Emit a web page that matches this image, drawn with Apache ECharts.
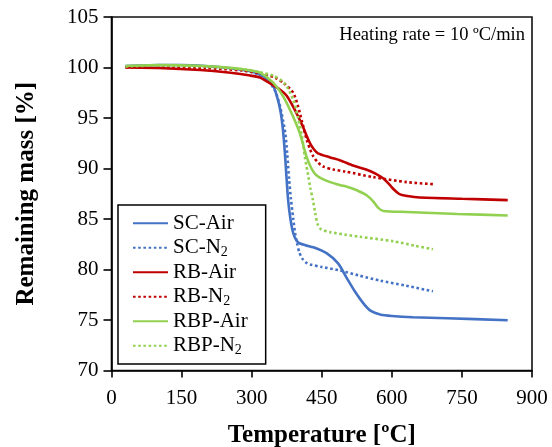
<!DOCTYPE html>
<html>
<head>
<meta charset="utf-8">
<script src="https://cdn.jsdelivr.net/npm/echarts@6/dist/echarts.min.js"></script>
<style>
  html, body { margin: 0; padding: 0; background: #fff; }
  #chart { width: 552px; height: 447px; }
</style>
</head>
<body>
<div id="chart"></div>
<script>
// TGA curves: [temperature °C, remaining mass %]
const scAir = [[30,100.15],[100,100.25],[150,100.25],[200,100.15],[250,99.95],[300,99.6],[330,99.0],[345,98.3],[355,97.0],[362,95.6],[367,93.8],[371,91.6],[374,89.5],[378,86.9],[383,85.0],[389,83.6],[399,82.7],[415,82.4],[432,82.2],[461,81.6],[485,80.6],[503,79.2],[520,77.9],[540,76.6],[555,75.9],[575,75.55],[600,75.4],[645,75.27],[718,75.17],[848,74.98]];
const scN2 = [[30,100.1],[100,100.2],[200,100.1],[270,99.8],[310,99.4],[335,98.7],[350,97.7],[360,96.3],[367,94.8],[372,93.5],[376,91.5],[380,89.0],[384,87.0],[389,85.0],[393,83.6],[397,82.6],[402,81.7],[408,81.1],[416,80.7],[425,80.5],[450,80.25],[489,79.9],[530,79.4],[575,78.9],[630,78.4],[688,77.84]];
const rbAir = [[30,100.0],[100,99.95],[190,99.75],[250,99.5],[297,99.2],[318,99.0],[333,98.6],[361,97.8],[375,97.2],[389,96.1],[400,95.1],[410,94.1],[418,93.2],[425,92.5],[433,91.9],[442,91.5],[468,91.1],[490,90.8],[517,90.3],[545,89.9],[565,89.5],[582,89.0],[595,88.4],[605,87.9],[615,87.5],[624,87.35],[654,87.15],[750,87.0],[848,86.87]];
const rbN2 = [[30,100.0],[100,100.0],[200,99.95],[280,99.7],[320,99.4],[350,99.0],[370,98.4],[389,97.5],[399,96.2],[408,94.6],[418,92.8],[425,91.9],[432,91.2],[442,90.6],[453,90.2],[475,89.9],[500,89.7],[560,89.15],[632,88.65],[688,88.45]];
const rbpAir = [[30,100.15],[100,100.25],[200,100.15],[260,99.95],[300,99.7],[318,99.5],[346,98.5],[368,97.1],[389,95.1],[403,93.5],[418,91.1],[428,90.0],[437,89.4],[450,89.0],[468,88.65],[490,88.35],[504,88.2],[525,87.85],[546,87.35],[560,86.75],[571,86.1],[582,85.8],[632,85.7],[740,85.5],[848,85.35]];
const rbpN2 = [[30,100.1],[100,100.2],[200,100.1],[280,99.8],[320,99.5],[346,99.2],[371,98.4],[389,96.8],[399,95.1],[408,93.1],[414,91.1],[421,89.3],[426,88.0],[431,86.9],[436,85.6],[441,84.5],[448,84.0],[468,83.7],[500,83.45],[530,83.25],[603,82.8],[650,82.35],[688,82.0]];

const seriesNames = ['SC-Air', 'SC-N2', 'RB-Air', 'RB-N2', 'RBP-Air', 'RBP-N2'];
const xTicks = { min: 0, max: 900, step: 150 };
const yTicks = { min: 70, max: 105, step: 5 };
const annotation = 'Heating rate = 10 ºC/min';

const serif = '"Liberation Serif", "Times New Roman", serif';
const BLUE = '#4472C4', RED = '#C00000', GREEN = '#92D050';

function mk(name, data, color, dotted) {
  return {
    name: name,
    type: 'line',
    data: data,
    smooth: 0.25,
    showSymbol: false,
    symbol: 'none',
    lineStyle: { color: color, width: 2.6, type: dotted ? [2.6, 2.6] : 'solid', cap: 'butt' },
    itemStyle: { color: color },
    emphasis: { disabled: true }
  };
}

const chart = echarts.init(document.getElementById('chart'), null, { renderer: 'canvas' });
chart.setOption({
  animation: false,
  backgroundColor: '#fff',
  grid: {
    left: 111.5, right: 20, top: 17, bottom: 76.5,
    outerBoundsMode: 'none', containLabel: false,
    show: true, borderColor: '#111', borderWidth: 1.6, backgroundColor: 'transparent'
  },
  xAxis: {
    type: 'value', min: xTicks.min, max: xTicks.max, interval: xTicks.step,
    name: 'Temperature [ºC]', nameLocation: 'middle', nameGap: 53,
    nameTextStyle: { fontFamily: serif, fontWeight: 'bold', fontSize: 25, color: '#000' },
    axisLine: { show: true, lineStyle: { color: '#000', width: 1.6 } },
    axisTick: { show: true, length: 7, lineStyle: { color: '#000', width: 1.6 } },
    axisLabel: { fontFamily: serif, fontSize: 21, color: '#000', margin: 17 },
    splitLine: { show: false }
  },
  yAxis: {
    type: 'value', min: yTicks.min, max: yTicks.max, interval: yTicks.step,
    name: 'Remaining mass [%]', nameLocation: 'middle', nameGap: 72,
    nameTextStyle: { fontFamily: serif, fontWeight: 'bold', fontSize: 25, color: '#000' },
    axisLine: { show: true, lineStyle: { color: '#000', width: 1.6 } },
    axisTick: { show: true, length: 8, lineStyle: { color: '#000', width: 1.6 } },
    axisLabel: { fontFamily: serif, fontSize: 21, color: '#000', margin: 13 },
    splitLine: { show: false }
  },
  legend: {
    orient: 'vertical', left: 118, top: 205,
    data: seriesNames,
    itemWidth: 35, itemHeight: 14, itemGap: 0,
    padding: [6, 18, 6, 14],
    borderColor: '#000', borderWidth: 1.5, backgroundColor: '#fff',
    // line sample only, no marker on it
    itemStyle: { opacity: 0, borderWidth: 0 },
    lineStyle: { opacity: 1 },
    formatter: function (n) { return n.replace('N2', 'N{sub|2}'); },
    textStyle: {
      fontFamily: serif, fontSize: 21, color: '#000', lineHeight: 24.5,
      rich: { sub: { fontFamily: serif, fontSize: 14, color: '#000', padding: [9, 0, 0, 0] } }
    },
    selectedMode: false
  },
  graphic: [{
    type: 'text', right: 27, top: 26,
    style: { text: annotation, font: '18.5px ' + serif, fill: '#000' }
  }],
  series: [
    mk(seriesNames[0], scAir, BLUE, false),
    mk(seriesNames[1], scN2, BLUE, true),
    mk(seriesNames[2], rbAir, RED, false),
    mk(seriesNames[3], rbN2, RED, true),
    mk(seriesNames[4], rbpAir, GREEN, false),
    mk(seriesNames[5], rbpN2, GREEN, true)
  ]
});
</script>
</body>
</html>
